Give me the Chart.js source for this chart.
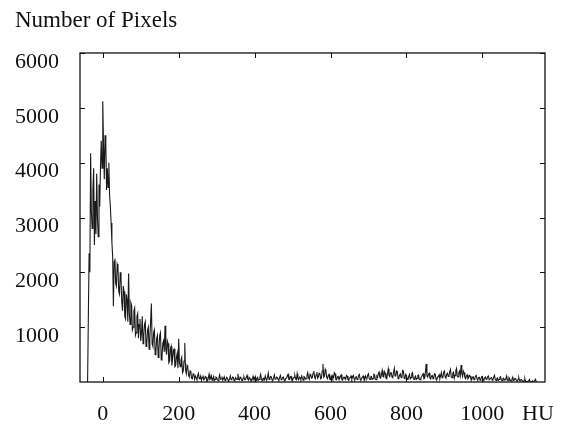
<!DOCTYPE html>
<html>
<head>
<meta charset="utf-8">
<script src="https://cdn.jsdelivr.net/npm/chart.js@4"></script>
<style>
  html, body { margin: 0; padding: 0; background: #fff; }
  #wrap { width: 563px; height: 428px; }
</style>
</head>
<body>
<div id="wrap"><canvas id="hist"></canvas></div>
<script>
// --- DATA ---
// histogram bins: first bin centre and width (HU)
const BIN_START = -40;
const BIN_WIDTH = 2;

// pixel counts per bin, one row per 100 HU
const counts = [
  // -40 .. 58
  0, 1200, 2350, 2000, 4170, 3100, 2800, 3500, 3900, 2500, 3300, 2700, 3800, 3000, 2650, 3600, 3200, 3950, 4400, 3900,
  5120, 4300, 3700, 4500, 4350, 3500, 3900, 3550, 4000, 3400, 3200, 2900, 2550, 2300, 1380, 2200, 2250, 1800, 1750, 2150,
  2100, 1650, 1600, 2000, 1900, 1450, 1300, 1750, 1650, 1200,
  // 60 .. 158
  1150, 1600, 1500, 1100, 1980, 1250, 1050, 1450, 1400, 950, 1000, 1300, 1350, 850, 900, 1200, 1250, 800, 1050, 1150,
  750, 900, 1200, 700, 850, 1050, 1100, 650, 700, 950, 1000, 600, 800, 1100, 1430, 700, 650, 900, 950, 500,
  550, 800, 850, 450, 600, 850, 900, 400, 450, 700,
  // 160 .. 258
  750, 550, 1025, 600, 500, 750, 700, 350, 380, 600, 650, 300, 420, 580, 600, 280, 300, 450, 520, 250,
  790, 350, 280, 400, 450, 170, 200, 380, 710, 220, 150, 300, 260, 120, 90, 200, 180, 70, 60, 150,
  140, 50, 110, 80, 40, 120, 160, 60, 70, 110,
  // 260 .. 358
  30, 80, 120, 40, 50, 100, 90, 30, 20, 70, 140, 45, 60, 110, 35, 60, 100, 25, 45, 90,
  80, 40, 25, 75, 130, 50, 55, 100, 30, 65, 95, 30, 40, 85, 70, 35, 20, 60, 110, 40,
  50, 90, 85, 25, 30, 80, 60, 45, 150, 55,
  // 360 .. 458
  40, 90, 75, 30, 25, 70, 90, 40, 45, 85, 120, 50, 35, 80, 65, 30, 20, 60, 100, 45,
  50, 95, 30, 60, 85, 35, 45, 90, 140, 50, 25, 65, 70, 40, 110, 55, 40, 85, 160, 45,
  60, 100, 95, 35, 30, 75, 130, 50, 55, 90,
  // 460 .. 558
  80, 45, 35, 90, 120, 40, 50, 85, 90, 30, 25, 65, 70, 110, 140, 50, 45, 95, 100, 35,
  30, 70, 85, 120, 55, 40, 150, 60, 40, 90, 75, 45, 110, 70, 35, 100, 90, 55, 60, 120,
  170, 80, 50, 140, 130, 70, 80, 160, 200, 90,
  // 560 .. 658
  60, 130, 180, 70, 90, 160, 150, 60, 70, 200, 330, 90, 110, 230, 190, 80, 60, 120, 140, 50,
  45, 100, 120, 60, 80, 170, 150, 45, 40, 90, 100, 55, 60, 110, 130, 40, 35, 85, 90, 60,
  55, 120, 110, 40, 30, 75, 80, 110, 50, 95,
  // 660 .. 758
  120, 55, 40, 90, 95, 45, 60, 120, 140, 50, 35, 70, 85, 110, 50, 40, 110, 75, 70, 130,
  150, 60, 45, 95, 100, 50, 60, 140, 130, 55, 40, 110, 90, 150, 180, 80, 70, 130, 210, 100,
  90, 190, 160, 70, 60, 150, 240, 120, 100, 170,
  // 760 .. 858
  170, 90, 80, 180, 250, 110, 120, 200, 190, 60, 70, 130, 150, 80, 90, 210, 200, 70, 60, 140,
  120, 45, 50, 100, 140, 60, 80, 150, 170, 70, 45, 90, 110, 50, 65, 120, 130, 45, 40, 80,
  95, 130, 150, 60, 70, 180, 330, 110, 90, 140,
  // 860 .. 958
  160, 70, 55, 110, 120, 60, 80, 150, 140, 50, 45, 90, 100, 130, 60, 110, 170, 80, 90, 180,
  200, 90, 70, 140, 160, 100, 110, 190, 230, 90, 80, 160, 180, 70, 120, 210, 250, 100, 90, 170,
  200, 120, 310, 150, 100, 200, 170, 80, 60, 110,
  // 960 .. 1058
  130, 60, 80, 120, 110, 50, 45, 90, 95, 40, 60, 110, 120, 55, 40, 80, 85, 35, 55, 95,
  100, 45, 35, 75, 90, 50, 60, 100, 110, 40, 40, 70, 80, 35, 50, 90, 120, 45, 30, 65,
  75, 30, 45, 85, 95, 40, 25, 60, 70, 35,
  // 1060 .. 1144
  40, 70, 110, 35, 30, 80, 60, 25, 20, 55, 90, 30, 35, 65, 55, 20, 15, 50, 80, 25,
  20, 45, 40, 10, 0, 30, 60, 0, 10, 0, 0, 25, 45, 0, 0, 0, 20, 0, 0, 30,
  50, 0, 0
];

const xTicks = [0, 200, 400, 600, 800, 1000];
const xTickLabels = ['0', '200', '400', '600', '800', '1000'];
const yTicks = [1000, 2000, 3000, 4000, 5000, 6000];
const yTickLabels = ['1000', '2000', '3000', '4000', '5000', '6000'];
const X_MIN = -60, X_MAX = 1165;
const Y_MIN = 0, Y_MAX = 6000;

const FONT = { family: '"Liberation Serif", "Times New Roman", serif', size: 22 };
const INK = '#111';
const LABEL_PAD = 19;

// frame, inward tick marks and the "HU" unit label
const framePlugin = {
  id: 'frame',
  afterDraw(chart) {
    const { ctx, chartArea: a, scales } = chart;
    ctx.save();
    ctx.strokeStyle = INK;
    ctx.lineWidth = 1.3;
    ctx.strokeRect(a.left, a.top, a.right - a.left, a.bottom - a.top);
    ctx.lineWidth = 1;
    ctx.beginPath();
    xTicks.forEach(v => {
      const px = Math.round(scales.x.getPixelForValue(v)) + 0.5;
      ctx.moveTo(px, a.top); ctx.lineTo(px, a.top + 5);
      ctx.moveTo(px, a.bottom); ctx.lineTo(px, a.bottom - 5);
    });
    yTicks.forEach(v => {
      const py = Math.round(scales.y.getPixelForValue(v)) + 0.5;
      ctx.moveTo(a.left, py); ctx.lineTo(a.left + 5, py);
      ctx.moveTo(a.right, py); ctx.lineTo(a.right - 5, py);
    });
    ctx.stroke();

    ctx.fillStyle = INK;
    ctx.font = FONT.size + 'px ' + FONT.family;
    ctx.textAlign = 'center';
    ctx.textBaseline = 'middle';
    ctx.fillText('HU', a.right - 7, a.bottom + LABEL_PAD + FONT.size * 0.6);
    ctx.restore();
  }
};

const points = counts.map((c, i) => ({ x: BIN_START + i * BIN_WIDTH, y: c }));

new Chart(document.getElementById('hist'), {
  type: 'line',
  data: {
    datasets: [{
      data: points,
      borderColor: '#1a1a1a',
      borderWidth: 1.1,
      pointRadius: 0,
      tension: 0,
      fill: false
    }]
  },
  options: {
    responsive: true,
    maintainAspectRatio: false,
    animation: false,
    layout: { padding: { left: 15, right: 18, top: 0, bottom: 0 } },
    plugins: {
      legend: { display: false },
      tooltip: { enabled: false },
      title: {
        display: true,
        text: 'Number of Pixels',
        align: 'start',
        color: INK,
        font: { ...FONT, size: 23, weight: 'normal' },
        padding: { top: 7, bottom: 18.4 }
      }
    },
    scales: {
      x: {
        type: 'linear',
        min: X_MIN,
        max: X_MAX,
        grid: { display: false, drawTicks: false },
        border: { display: false },
        afterFit: s => { s.height = 46; },
        afterBuildTicks: s => { s.ticks = xTicks.map(v => ({ value: v })); },
        ticks: { color: INK, font: FONT, padding: LABEL_PAD, maxRotation: 0, callback: (v, i) => xTickLabels[i] }
      },
      y: {
        min: Y_MIN,
        max: Y_MAX,
        grid: { display: false, drawTicks: false },
        border: { display: false },
        afterFit: s => { s.width = 65; },
        afterBuildTicks: s => { s.ticks = yTicks.map(v => ({ value: v })); },
        ticks: { color: INK, font: FONT, padding: 21, labelOffset: 9, callback: (v, i) => yTickLabels[i] }
      }
    }
  },
  plugins: [framePlugin]
});
</script>
</body>
</html>
